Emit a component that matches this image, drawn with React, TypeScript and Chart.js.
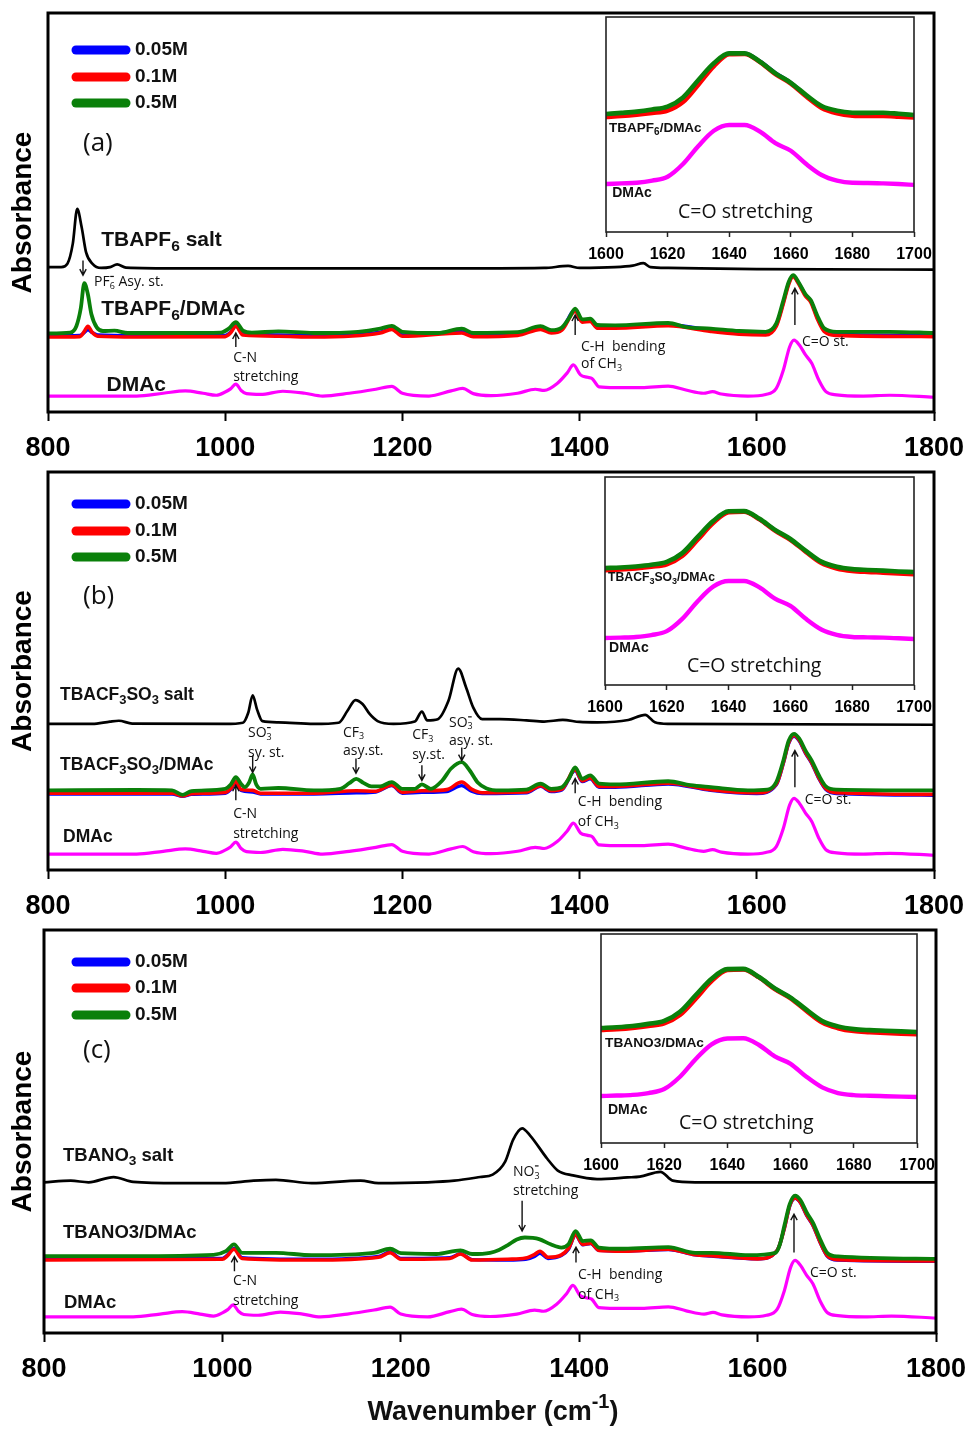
import { useEffect, useRef } from 'react';
import { Chart, registerables } from 'chart.js';

Chart.register(...registerables);

type Pt = [number, number];

// ---------------- axes ----------------
const MAIN_X_TICKS = [800, 1000, 1200, 1400, 1600, 1800];
const INSET_X_TICKS = [1600, 1620, 1640, 1660, 1680, 1700];
const CONCENTRATIONS = ['0.05M', '0.1M', '0.5M'];

// ---------------- pure DMAc spectrum (same solvent in every panel) ----------------
const DMAC: Pt[] = [
  [800, 4.0], [850, 4.0], [900, 4.0], [930, 4.7], [955, 5.3], [975, 4.7], [990, 4.2], [1000, 5.0],
  [1006, 5.8], [1012, 7.0], [1018, 5.4], [1024, 4.6], [1040, 4.4], [1065, 5.2], [1090, 4.7], [1110, 4.0],
  [1140, 4.7], [1170, 5.7], [1188, 6.4], [1200, 4.7], [1230, 4.0], [1255, 5.3], [1268, 5.9], [1280, 4.6],
  [1300, 4.1], [1330, 4.7], [1350, 5.7], [1360, 5.4], [1375, 7.2], [1386, 9.8], [1393, 11.8], [1401, 9.3],
  [1409, 8.7], [1414, 8.4], [1422, 6.3], [1440, 6.1], [1470, 6.1], [1500, 6.5], [1520, 5.5], [1540, 4.7],
  [1550, 5.1], [1560, 4.5], [1590, 4.0], [1610, 4.4], [1622, 5.9], [1630, 10.5], [1637, 16.3], [1642, 18.0],
  [1648, 16.8], [1655, 14.3], [1662, 12.2], [1670, 8.0], [1678, 5.1], [1690, 4.3], [1720, 4.0], [1750, 4.2],
  [1800, 3.7],
];

// ---------------- (a) TBAPF6 ----------------
const PF6_SALT: Pt[] = [
  [800, 36.3], [815, 36.3], [822, 37.2], [828, 42.2], [833, 50.9], [838, 46.3], [843, 40.0], [850, 37.2],
  [860, 36.1], [870, 36.3], [878, 37.0], [888, 36.2], [950, 36.0], [1100, 36.0], [1300, 36.0], [1360, 36.1],
  [1387, 36.6], [1400, 36.1], [1440, 36.3], [1460, 36.7], [1472, 37.3], [1480, 36.3], [1500, 36.1],
  [1600, 35.8], [1800, 35.7],
];
const PF6_005: Pt[] = [
  [800, 19.1], [836, 19.2], [841, 19.9], [845, 20.6], [850, 19.9], [856, 19.3], [900, 19.1], [1000, 19.2],
  [1006, 20.0], [1012, 21.6], [1020, 19.6], [1060, 19.3], [1100, 19.1], [1175, 20.0], [1188, 20.9],
  [1200, 19.3], [1267, 20.1], [1280, 19.2], [1330, 19.5], [1356, 21.0], [1368, 20.1], [1380, 20.8],
  [1395, 25.6], [1403, 22.8], [1412, 23.0], [1420, 21.3], [1440, 21.3], [1500, 21.9], [1548, 20.5],
  [1580, 19.8], [1610, 19.6], [1622, 21.8], [1630, 27.5], [1636, 32.3], [1641, 34.1], [1647, 32.4],
  [1655, 29.3], [1661, 27.8], [1668, 23.8], [1676, 20.5], [1690, 19.5], [1800, 19.2],
];
const PF6_01: Pt[] = [
  [800, 18.8], [836, 18.9], [841, 20.2], [845, 21.5], [850, 19.9], [856, 19.0], [900, 18.8], [1000, 18.9],
  [1006, 19.8], [1012, 21.5], [1020, 19.3], [1060, 19.0], [1100, 18.8], [1175, 19.8], [1188, 20.7],
  [1200, 19.0], [1267, 19.8], [1280, 18.9], [1330, 19.2], [1356, 20.7], [1368, 19.8], [1380, 20.5],
  [1395, 25.2], [1403, 22.5], [1412, 22.7], [1420, 21.0], [1440, 21.0], [1500, 21.6], [1548, 20.2],
  [1580, 19.5], [1610, 19.3], [1622, 21.5], [1630, 27.2], [1636, 32.0], [1641, 33.9], [1647, 32.2],
  [1655, 29.0], [1661, 27.5], [1668, 23.5], [1676, 20.2], [1690, 19.2], [1800, 18.9],
];
const PF6_05: Pt[] = [
  [800, 19.7], [825, 19.9], [832, 21.5], [837, 26.0], [841, 32.3], [845, 29.5], [849, 24.5], [855, 21.2],
  [862, 20.3], [875, 20.4], [890, 19.8], [950, 19.8], [995, 19.9], [1004, 20.9], [1012, 22.5], [1020, 20.4],
  [1030, 19.9], [1060, 20.2], [1100, 19.8], [1150, 20.1], [1175, 20.9], [1188, 21.6], [1200, 20.1],
  [1240, 19.8], [1267, 20.9], [1280, 19.8], [1330, 20.0], [1356, 21.5], [1368, 20.5], [1380, 21.2],
  [1388, 23.5], [1395, 25.9], [1403, 23.2], [1412, 23.4], [1420, 21.8], [1440, 21.7], [1500, 22.3],
  [1520, 21.3], [1548, 20.9], [1580, 20.3], [1610, 20.1], [1622, 22.2], [1630, 28.0], [1636, 32.6],
  [1641, 34.3], [1647, 32.6], [1655, 29.5], [1661, 28.0], [1668, 24.3], [1676, 21.0], [1690, 20.1],
  [1750, 20.1], [1800, 19.8],
];

// ---------------- (b) TBACF3SO3 ----------------
const OTF_SALT: Pt[] = [
  [800, 36.7], [850, 36.7], [870, 37.3], [880, 37.5], [895, 36.8], [1000, 36.7], [1020, 37.0], [1026, 39.5],
  [1031, 43.9], [1036, 40.3], [1042, 37.4], [1060, 37.1], [1100, 36.7], [1128, 37.0], [1138, 40.0],
  [1147, 42.7], [1155, 41.7], [1163, 39.2], [1172, 37.4], [1190, 36.7], [1214, 37.3], [1222, 39.8],
  [1228, 37.6], [1240, 37.9], [1252, 42.5], [1263, 50.6], [1272, 45.8], [1280, 40.8], [1290, 37.9],
  [1310, 37.9], [1340, 37.6], [1360, 37.3], [1381, 37.7], [1400, 37.2], [1420, 37.1], [1455, 37.7],
  [1474, 39.0], [1485, 37.1], [1500, 36.7], [1800, 36.5],
];
const OTF_005: Pt[] = [
  [800, 19.1], [940, 19.1], [952, 18.5], [962, 19.0], [1000, 19.3], [1006, 20.2], [1012, 22.0], [1018, 20.0],
  [1031, 19.6], [1040, 19.1], [1100, 19.1], [1148, 19.4], [1170, 19.6], [1188, 21.2], [1200, 19.3],
  [1222, 19.5], [1250, 19.7], [1267, 21.2], [1278, 19.8], [1290, 19.2], [1340, 19.4], [1356, 21.0],
  [1368, 19.7], [1380, 20.1], [1395, 25.0], [1403, 22.2], [1412, 22.9], [1422, 20.8], [1440, 20.8],
  [1500, 21.6], [1548, 20.0], [1600, 19.2], [1622, 21.4], [1630, 26.8], [1636, 31.8], [1642, 33.6],
  [1648, 32.4], [1655, 29.3], [1662, 26.8], [1670, 23.0], [1678, 20.2], [1690, 19.2], [1800, 18.8],
];
const OTF_01: Pt[] = [
  [800, 19.3], [940, 19.3], [952, 18.6], [962, 19.2], [1000, 19.5], [1006, 20.4], [1012, 22.2], [1018, 20.2],
  [1031, 20.0], [1040, 19.3], [1100, 19.3], [1148, 19.9], [1170, 19.8], [1188, 21.4], [1200, 19.5],
  [1222, 19.9], [1250, 20.2], [1267, 22.1], [1278, 20.3], [1290, 19.4], [1340, 19.6], [1356, 21.2],
  [1368, 19.9], [1380, 20.3], [1395, 25.2], [1403, 22.4], [1412, 23.1], [1422, 21.0], [1440, 21.0],
  [1500, 21.8], [1548, 20.2], [1600, 19.4], [1622, 21.6], [1630, 27.0], [1636, 32.0], [1642, 33.8],
  [1648, 32.6], [1655, 29.5], [1662, 27.0], [1670, 23.2], [1678, 20.4], [1690, 19.4], [1800, 19.0],
];
const OTF_05: Pt[] = [
  [800, 20.0], [900, 20.1], [940, 20.0], [952, 18.9], [962, 19.8], [1000, 20.4], [1006, 21.4], [1012, 23.3],
  [1018, 21.6], [1022, 20.8], [1027, 22.0], [1031, 24.0], [1035, 21.5], [1040, 20.4], [1060, 20.6],
  [1100, 20.0], [1130, 20.4], [1140, 21.8], [1148, 22.9], [1156, 21.9], [1165, 21.0], [1175, 21.0],
  [1188, 22.1], [1200, 20.4], [1214, 20.4], [1222, 21.5], [1232, 20.4], [1245, 22.5], [1255, 25.5],
  [1267, 27.1], [1276, 25.0], [1285, 22.0], [1295, 20.5], [1310, 20.0], [1340, 20.2], [1356, 21.7],
  [1368, 20.4], [1380, 20.8], [1388, 23.0], [1395, 25.8], [1403, 22.9], [1412, 23.8], [1422, 21.7],
  [1440, 21.5], [1500, 22.3], [1525, 21.3], [1548, 20.8], [1590, 20.0], [1612, 20.2], [1622, 22.1],
  [1630, 27.5], [1636, 32.5], [1642, 34.2], [1648, 33.0], [1655, 30.0], [1662, 27.5], [1670, 23.8],
  [1678, 21.0], [1690, 20.2], [1800, 20.0],
];

// ---------------- (c) TBANO3 ----------------
const NO3_SALT: Pt[] = [
  [800, 37.4], [830, 37.8], [850, 37.4], [878, 38.7], [900, 37.5], [950, 37.2], [1000, 37.2], [1035, 37.8],
  [1060, 38.0], [1100, 37.2], [1155, 37.8], [1175, 37.2], [1230, 37.4], [1260, 37.8], [1289, 38.7],
  [1303, 39.3], [1317, 42.5], [1326, 48.0], [1336, 50.8], [1345, 49.0], [1364, 43.3], [1376, 40.3],
  [1393, 39.1], [1420, 38.2], [1454, 38.6], [1468, 38.8], [1491, 40.0], [1505, 37.8], [1530, 37.4],
  [1800, 37.4],
];
const NO3_005: Pt[] = [
  [800, 18.3], [1000, 18.5], [1005, 19.2], [1013, 21.0], [1022, 18.7], [1100, 18.3], [1175, 19.0],
  [1188, 20.1], [1200, 18.5], [1255, 18.7], [1267, 19.7], [1280, 18.2], [1320, 18.1], [1340, 18.3],
  [1350, 19.0], [1356, 19.8], [1365, 18.5], [1380, 19.2], [1388, 20.8], [1396, 24.3], [1404, 21.9],
  [1413, 22.2], [1422, 20.5], [1450, 20.3], [1500, 20.7], [1530, 19.4], [1548, 19.1], [1600, 18.4],
  [1622, 20.5], [1630, 26.0], [1636, 31.5], [1642, 33.4], [1648, 32.3], [1655, 29.2], [1662, 26.7],
  [1670, 22.5], [1678, 19.1], [1690, 18.1], [1800, 17.8],
];
const NO3_01: Pt[] = [
  [800, 18.1], [1000, 18.3], [1005, 19.0], [1013, 20.8], [1022, 18.5], [1100, 18.1], [1175, 18.8],
  [1188, 19.9], [1200, 18.3], [1255, 18.5], [1267, 19.6], [1280, 18.1], [1320, 18.3], [1340, 18.6],
  [1350, 19.5], [1356, 20.3], [1365, 18.8], [1380, 19.4], [1388, 21.0], [1396, 24.4], [1404, 22.0],
  [1413, 22.3], [1422, 20.5], [1450, 20.3], [1500, 20.8], [1530, 19.4], [1548, 19.2], [1600, 18.4],
  [1622, 20.5], [1630, 26.0], [1636, 31.6], [1642, 33.5], [1648, 32.4], [1655, 29.3], [1662, 26.8],
  [1670, 22.6], [1678, 19.2], [1690, 18.2], [1800, 17.9],
];
const NO3_05: Pt[] = [
  [800, 19.1], [900, 19.1], [990, 19.4], [1004, 20.3], [1013, 22.0], [1022, 19.9], [1060, 19.9], [1100, 19.3],
  [1170, 19.9], [1188, 20.9], [1200, 19.8], [1240, 19.6], [1267, 20.5], [1280, 19.6], [1300, 19.9],
  [1310, 20.6], [1320, 21.8], [1330, 23.2], [1339, 23.7], [1348, 23.6], [1355, 23.3], [1368, 22.0],
  [1380, 21.2], [1388, 22.0], [1396, 25.3], [1404, 22.8], [1413, 23.0], [1422, 21.2], [1450, 20.9],
  [1500, 21.3], [1530, 19.9], [1548, 19.9], [1590, 19.3], [1620, 19.9], [1625, 22.0], [1630, 26.6],
  [1636, 32.0], [1642, 34.1], [1648, 33.0], [1655, 29.9], [1662, 27.4], [1670, 23.3], [1678, 19.9],
  [1690, 19.0], [1800, 18.4],
];

// ---------------- C=O stretching close-ups (1600-1700 cm-1) ----------------
const INSET_WN = [
  1600, 1605, 1610, 1615, 1620, 1625, 1630, 1635, 1640, 1645, 1650,
  1655, 1660, 1665, 1670, 1675, 1680, 1685, 1690, 1695, 1700,
];
const INSET_A_005 = [54.2, 54.6, 55.2, 56.1, 57.3, 61.5, 69.8, 78.0, 83.0, 83.0, 79.3, 73.9, 69.4, 63.4, 58.1, 55.7, 54.7, 54.5, 54.6, 54.2, 53.8];
const INSET_A_01 = [53.5, 53.9, 54.5, 55.3, 56.4, 60.4, 68.5, 77.0, 82.6, 82.8, 79.0, 73.4, 69.0, 63.0, 57.7, 55.2, 54.1, 53.9, 53.9, 53.6, 53.2];
const INSET_A_05 = [54.9, 55.4, 56.0, 57.0, 58.3, 62.6, 70.7, 78.5, 83.1, 83.1, 79.2, 73.8, 69.4, 63.7, 58.6, 56.4, 55.5, 55.4, 55.5, 55.0, 54.4];
const INSET_A_DMAC = [22.3, 22.6, 22.9, 23.9, 25.7, 31.6, 40.0, 47.1, 49.8, 49.8, 46.7, 41.3, 37.8, 31.6, 26.5, 23.9, 22.9, 22.8, 22.6, 22.3, 21.9];

const INSET_B_005 = [55.7, 56.0, 56.6, 57.5, 59.0, 63.3, 71.0, 78.6, 83.3, 83.4, 79.7, 74.4, 70.0, 64.2, 58.9, 56.3, 55.2, 54.8, 54.5, 54.1, 53.7];
const INSET_B_01 = [55.2, 55.5, 56.0, 56.8, 58.0, 62.0, 69.8, 77.8, 83.0, 83.3, 79.6, 74.2, 69.8, 64.0, 58.6, 56.0, 54.8, 54.3, 54.0, 53.6, 53.2];
const INSET_B_05 = [56.2, 56.5, 57.0, 57.8, 59.2, 63.4, 71.2, 78.8, 83.5, 83.6, 79.9, 74.6, 70.2, 64.5, 59.3, 56.8, 55.7, 55.3, 55.0, 54.6, 54.3];
const INSET_B_DMAC = [22.6, 22.8, 23.1, 24.0, 25.9, 31.8, 40.3, 47.3, 50.0, 50.0, 46.9, 41.5, 38.0, 31.8, 26.7, 24.1, 23.1, 22.9, 22.8, 22.5, 22.1];

const INSET_C_005 = [54.4, 54.8, 55.4, 56.3, 57.7, 61.8, 69.8, 78.0, 83.0, 83.1, 79.3, 73.8, 69.4, 63.5, 58.0, 55.3, 54.0, 53.5, 53.1, 52.8, 52.5];
const INSET_C_01 = [54.0, 54.4, 55.0, 55.9, 57.2, 61.2, 69.0, 77.4, 82.7, 83.0, 79.2, 73.6, 69.2, 63.2, 57.6, 54.9, 53.5, 53.0, 52.6, 52.3, 52.0];
const INSET_C_05 = [55.0, 55.4, 56.0, 57.0, 58.4, 62.8, 70.8, 78.6, 83.2, 83.3, 79.4, 74.0, 69.6, 63.8, 58.4, 55.8, 54.5, 54.0, 53.7, 53.4, 53.1];
const INSET_C_DMAC = [22.5, 22.7, 23.0, 23.9, 25.8, 31.7, 40.2, 47.2, 50.0, 50.1, 46.9, 41.4, 37.9, 31.7, 26.6, 23.9, 22.9, 22.6, 22.4, 22.2, 22.0];

// ---------------- styling ----------------
const W = 968;
const H = 1430;
const ARIAL = '"Liberation Sans", Arial, sans-serif';
const OPEN = '"Open Sans", sans-serif';
const COLORS = { c005: '#0000ff', c01: '#ff0000', c05: '#0a800a', salt: '#000000', dmac: '#ff00ff' };

type Note = { text: string; wn: number; v: number; size: number; bold?: boolean; family?: string };
type Arrow = { wn: number; from: number; to: number };
type Box = { left: number; top: number; right: number; bottom: number };

interface InsetCfg {
  box: Box;
  c005: number[];
  c01: number[];
  c05: number[];
  dmac: number[];
  notes: Note[];
}

interface PanelCfg {
  id: string;
  area: Box;
  canvasTop: number;
  canvasHeight: number;
  axisHeight: number;
  salt: Pt[];
  c005: Pt[];
  c01: Pt[];
  c05: Pt[];
  notes: Note[];
  arrows: Arrow[];
  legendRows: number[];
  xTitle?: string;
  inset: InsetCfg;
}

const lab = (text: string, wn: number, v: number, size: number): Note => ({ text, wn, v, size, bold: true, family: ARIAL });
const ann = (text: string, wn: number, v: number): Note => ({ text, wn, v, size: 14, family: OPEN });
const tag = (text: string, wn: number, v: number): Note => ({ text, wn, v, size: 26, family: OPEN });

const PANELS: PanelCfg[] = [
  {
    id: 'a',
    area: { left: 48, top: 13, right: 934, bottom: 412 },
    canvasTop: 0,
    canvasHeight: 13 + 399 + 50,
    axisHeight: 50,
    salt: PF6_SALT, c005: PF6_005, c01: PF6_01, c05: PF6_05,
    notes: [
      lab('TBAPF_6 salt', 860, 43, 21),
      lab('TBAPF_6/DMAc', 860, 25.8, 21),
      lab('DMAc', 866, 6.8, 21),
      tag('(a)', 839.5, 67.3),
      ann('PF_6^- Asy. st.', 852, 32.5),
      ann('C-N', 1009, 13.5),
      ann('stretching', 1009, 8.8),
      ann('C-H  bending', 1401.6, 16.3),
      ann('of CH_3', 1401.6, 12),
      ann('C=O st.', 1651, 17.5),
    ],
    arrows: [
      { wn: 839.5, from: 38, to: 34.3 },
      { wn: 1012, from: 16.3, to: 19.8 },
      { wn: 1395, from: 19.3, to: 24.3 },
      { wn: 1643, from: 21.8, to: 31 },
    ],
    legendRows: [50, 77, 103],
    inset: {
      box: { left: 606, top: 17, right: 914, bottom: 232 },
      c005: INSET_A_005, c01: INSET_A_01, c05: INSET_A_05, dmac: INSET_A_DMAC,
      notes: [
        lab('TBAPF_6/DMAc', 1601, 48.2, 13.5),
        lab('DMAc', 1602, 18.1, 14),
        { text: 'C=O stretching', wn: 1623.4, v: 9.3, size: 19.5, family: OPEN },
      ],
    },
  },
  {
    id: 'b',
    area: { left: 48, top: 472, right: 934, bottom: 870 },
    canvasTop: 459,
    canvasHeight: 13 + 398 + 50,
    axisHeight: 50,
    salt: OTF_SALT, c005: OTF_005, c01: OTF_01, c05: OTF_05,
    notes: [
      lab('TBACF_3SO_3 salt', 813.5, 44, 17.5),
      lab('TBACF_3SO_3/DMAc', 813.5, 26.3, 17.5),
      lab('DMAc', 817, 8.3, 17.5),
      tag('(b)', 839.5, 68.8),
      ann('SO_3^-', 1025.7, 34.3),
      ann('sy. st.', 1025.7, 29.3),
      ann('CF_3', 1133, 34.5),
      ann('asy.st.', 1133, 30),
      ann('CF_3', 1211, 33.8),
      ann('sy.st.', 1211, 28.8),
      ann('SO_3^-', 1252.6, 37),
      ann('asy. st.', 1252.6, 32.5),
      ann('C-N', 1009, 14),
      ann('stretching', 1009, 9),
      ann('C-H  bending', 1398, 17),
      ann('of CH_3', 1398, 12),
      ann('C=O st.', 1654, 17.5),
    ],
    arrows: [
      { wn: 1031, from: 28.8, to: 24.5 },
      { wn: 1147.6, from: 28, to: 24.3 },
      { wn: 1222, from: 26.3, to: 22.5 },
      { wn: 1267, from: 30.8, to: 27.5 },
      { wn: 1012, from: 17.5, to: 21.3 },
      { wn: 1395, from: 19.3, to: 23 },
      { wn: 1643, from: 20.8, to: 30 },
    ],
    legendRows: [504, 531, 557],
    inset: {
      box: { left: 605, top: 477, right: 914, bottom: 685 },
      c005: INSET_B_005, c01: INSET_B_01, c05: INSET_B_05, dmac: INSET_B_DMAC,
      notes: [
        lab('TBACF_3SO_3/DMAc', 1601, 51.4, 12.2),
        lab('DMAc', 1601.3, 17.8, 14),
        { text: 'C=O stretching', wn: 1626.5, v: 9.1, size: 19.5, family: OPEN },
      ],
    },
  },
  {
    id: 'c',
    area: { left: 44, top: 930, right: 936, bottom: 1333 },
    canvasTop: 917,
    canvasHeight: H - 917,
    axisHeight: H - 1333,
    salt: NO3_SALT, c005: NO3_005, c01: NO3_01, c05: NO3_05,
    notes: [
      lab('TBANO_3 salt', 821.3, 44, 18.5),
      lab('TBANO3/DMAc', 821.3, 24.9, 18.5),
      lab('DMAc', 822.4, 7.5, 18.5),
      tag('(c)', 843.7, 70),
      ann('NO_3^-', 1325.8, 40),
      ann('stretching', 1325.8, 35.3),
      ann('C-N', 1012, 12.8),
      ann('stretching', 1012, 8),
      ann('C-H  bending', 1398.7, 14.3),
      ann('of CH_3', 1398.7, 9.5),
      ann('C=O st.', 1658.7, 15),
    ],
    arrows: [
      { wn: 1336, from: 32.8, to: 25.3 },
      { wn: 1013.5, from: 15.3, to: 19 },
      { wn: 1396.4, from: 17.5, to: 21.3 },
      { wn: 1640.8, from: 20, to: 29.5 },
    ],
    legendRows: [962, 988, 1015],
    xTitle: 'Wavenumber (cm^-^1)',
    inset: {
      box: { left: 601, top: 934, right: 917, bottom: 1143 },
      c005: INSET_C_005, c01: INSET_C_01, c05: INSET_C_05, dmac: INSET_C_DMAC,
      notes: [
        lab('TBANO3/DMAc', 1601.3, 47.7, 13.7),
        lab('DMAc', 1602.2, 15.5, 14),
        { text: 'C=O stretching', wn: 1624.7, v: 9.4, size: 19.5, family: OPEN },
      ],
    },
  },
];

// ---------------- text with sub/superscripts ('_x' sub, '^x' sup) ----------------
type Run = { t: string; kind: 'n' | 'sub' | 'sup' };
function parseRich(s: string): Run[] {
  const out: Run[] = [];
  for (let i = 0; i < s.length; i++) {
    const c = s[i];
    if ((c === '_' || c === '^') && i + 1 < s.length) {
      out.push({ t: s[i + 1], kind: c === '_' ? 'sub' : 'sup' });
      i++;
    } else {
      const last = out[out.length - 1];
      if (last && last.kind === 'n') last.t += c;
      else out.push({ t: c, kind: 'n' });
    }
  }
  return out;
}

function layoutRich(ctx: CanvasRenderingContext2D, s: string, size: number, weight: string, family: string) {
  const items: { t: string; x: number; dy: number; font: string; bar?: number }[] = [];
  let x = 0;
  let prevSub: { x: number } | null = null;
  const isOpen = family === OPEN;
  const subScale = isOpen ? 0.64 : 0.74;
  const supScale = isOpen ? 0.8 : 0.74;
  for (const r of parseRich(s)) {
    const fs = r.kind === 'n' ? size : r.kind === 'sub' ? size * subScale : size * supScale;
    const font = `${weight} ${fs}px ${family}`;
    ctx.font = font;
    const w = ctx.measureText(r.t).width;
    if (r.kind === 'n') {
      items.push({ t: r.t, x, dy: 0, font });
      x += w;
      prevSub = null;
    } else if (r.kind === 'sub') {
      items.push({ t: r.t, x, dy: size * 0.3, font });
      prevSub = { x };
      x += w;
    } else {
      const sx = prevSub ? prevSub.x + 0.5 : x;
      if (isOpen && r.t === '-') {
        // small raised dash, drawn as a short bar so it stays legible at small sizes
        const bw = Math.max(3.2, size * 0.26);
        items.push({ t: '', x: sx, dy: -size * 0.42, font, bar: bw });
        x = Math.max(x, sx + bw + 0.5);
      } else {
        items.push({ t: r.t, x: sx, dy: -size * 0.38, font });
        x = Math.max(x, sx + w);
      }
      prevSub = null;
    }
  }
  return { items, width: x };
}

function drawRich(
  ctx: CanvasRenderingContext2D, s: string, x: number, y: number,
  size: number, weight: string, family: string, align: 'left' | 'center' = 'left',
) {
  const { items, width } = layoutRich(ctx, s, size, weight, family);
  const x0 = align === 'center' ? x - width / 2 : x;
  ctx.textAlign = 'left';
  ctx.textBaseline = 'middle';
  ctx.fillStyle = '#111';
  for (const it of items) {
    if (it.bar) {
      ctx.fillRect(x0 + it.x, y + it.dy - 0.6, it.bar, 1.2);
      continue;
    }
    ctx.font = it.font;
    ctx.fillText(it.t, x0 + it.x, y + it.dy);
  }
}

function drawArrow(ctx: CanvasRenderingContext2D, x: number, y0: number, y1: number) {
  const dir = y1 > y0 ? 1 : -1;
  ctx.strokeStyle = '#111';
  ctx.lineWidth = 1.4;
  ctx.lineCap = 'butt';
  ctx.beginPath();
  ctx.moveTo(x, y0);
  ctx.lineTo(x, y1);
  ctx.moveTo(x - 3.2, y1 - dir * 6);
  ctx.lineTo(x, y1);
  ctx.lineTo(x + 3.2, y1 - dir * 6);
  ctx.stroke();
}

const toXY = (pts: Pt[]) => pts.map(([x, y]) => ({ x, y }));
const zipXY = (xs: number[], ys: number[]) => xs.map((x, i) => ({ x, y: ys[i] }));

const line = (label: string, data: { x: number; y: number }[], color: string, width: number) => ({
  label,
  data,
  borderColor: color,
  backgroundColor: color,
  borderWidth: width,
  pointRadius: 0,
  fill: false,
  cubicInterpolationMode: 'monotone' as const,
  borderJoinStyle: 'round' as const,
  borderCapStyle: 'round' as const,
});

function MainPanel({ p }: { p: PanelCfg }) {
  const ref = useRef<HTMLCanvasElement>(null);
  useEffect(() => {
    const a = p.area;
    const decor = {
      id: 'decor-' + p.id,
      afterDraw(chart: any) {
        const { ctx, chartArea: ca, scales } = chart;
        const xs = scales.x;
        const ys = scales.y;
        ctx.save();
        ctx.strokeStyle = '#000';
        ctx.lineWidth = 3;
        ctx.strokeRect(ca.left, ca.top, ca.right - ca.left, ca.bottom - ca.top);

        // legend: concentrations, thick rounded swatches
        const conc = [chart.data.datasets[2], chart.data.datasets[1], chart.data.datasets[0]];
        p.legendRows.forEach((py: number, i: number) => {
          const y = py - p.canvasTop;
          ctx.strokeStyle = conc[i].borderColor;
          ctx.lineWidth = 9;
          ctx.lineCap = 'round';
          ctx.beginPath();
          ctx.moveTo(76, y);
          ctx.lineTo(126, y);
          ctx.stroke();
          drawRich(ctx, conc[i].label, 135, y, 19, 'bold', ARIAL);
        });

        for (const n of p.notes) {
          drawRich(ctx, n.text, xs.getPixelForValue(n.wn), ys.getPixelForValue(n.v), n.size,
            n.bold ? 'bold' : 'normal', n.family || OPEN);
        }
        for (const ar of p.arrows) {
          drawArrow(ctx, xs.getPixelForValue(ar.wn), ys.getPixelForValue(ar.from), ys.getPixelForValue(ar.to));
        }
        if (p.xTitle) {
          drawRich(ctx, p.xTitle, (ca.left + ca.right) / 2 + 3, 1413 - p.canvasTop, 27, 'bold', ARIAL, 'center');
        }
        ctx.restore();
      },
    };

    const chart = new Chart(ref.current!, {
      type: 'line',
      data: {
        datasets: [
          line(CONCENTRATIONS[2], toXY(p.c05), COLORS.c05, 3.8),
          line(CONCENTRATIONS[1], toXY(p.c01), COLORS.c01, 3.6),
          line(CONCENTRATIONS[0], toXY(p.c005), COLORS.c005, 3.4),
          line('salt', toXY(p.salt), COLORS.salt, 2.7),
          line('DMAc', toXY(DMAC), COLORS.dmac, 3.2),
        ] as any,
      },
      options: {
        responsive: false,
        animation: false,
        devicePixelRatio: 1,
        events: [],
        layout: { padding: { left: 0, top: a.top - p.canvasTop, right: W - a.right, bottom: 0 } },
        plugins: { legend: { display: false }, tooltip: { enabled: false } },
        scales: {
          x: {
            type: 'linear',
            min: MAIN_X_TICKS[0],
            max: MAIN_X_TICKS[MAIN_X_TICKS.length - 1],
            afterFit: (s: any) => { s.height = p.axisHeight; s.paddingLeft = 0; s.paddingRight = 0; },
            ticks: {
              stepSize: MAIN_X_TICKS[1] - MAIN_X_TICKS[0],
              callback: (v: any) => String(v),
              color: '#000',
              padding: 11,
              maxRotation: 0,
              font: { family: ARIAL, size: 27, weight: 'bold' },
            },
            grid: { display: true, drawOnChartArea: false, drawTicks: true, tickLength: 9, tickWidth: 2, tickColor: '#000' },
            border: { display: false },
          },
          y: {
            type: 'linear',
            min: 0,
            max: 100,
            afterFit: (s: any) => { s.width = a.left; s.paddingTop = 0; s.paddingBottom = 0; },
            ticks: { display: false },
            grid: { display: false },
            border: { display: false },
            title: {
              display: true,
              text: 'Absorbance',
              color: '#000',
              padding: { top: 6, bottom: 0 },
              font: { family: ARIAL, size: 28, weight: 'bold' },
            },
          },
        },
      } as any,
      plugins: [decor],
    });
    return () => chart.destroy();
  }, [p]);
  return (
    <canvas
      ref={ref}
      width={W}
      height={p.canvasHeight}
      style={{ position: 'absolute', left: 0, top: p.canvasTop, width: W, height: p.canvasHeight }}
    />
  );
}

function InsetPanel({ p }: { p: PanelCfg }) {
  const ref = useRef<HTMLCanvasElement>(null);
  const b = p.inset.box;
  const left = b.left - 30;
  const top = b.top - 10;
  const width = W - left;
  const height = b.bottom - b.top + 10 + 40;
  useEffect(() => {
    const ins = p.inset;
    const decor = {
      id: 'inset-' + p.id,
      afterDraw(chart: any) {
        const { ctx, chartArea: ca, scales } = chart;
        ctx.save();
        ctx.strokeStyle = '#222';
        ctx.lineWidth = 1.6;
        ctx.strokeRect(ca.left, ca.top, ca.right - ca.left, ca.bottom - ca.top);
        for (const n of ins.notes) {
          drawRich(ctx, n.text, scales.x.getPixelForValue(n.wn), scales.y.getPixelForValue(n.v), n.size,
            n.bold ? 'bold' : 'normal', n.family || OPEN);
        }
        ctx.restore();
      },
    };
    const chart = new Chart(ref.current!, {
      type: 'line',
      data: {
        datasets: [
          line(CONCENTRATIONS[2], zipXY(INSET_WN, ins.c05), COLORS.c05, 4.6),
          line(CONCENTRATIONS[1], zipXY(INSET_WN, ins.c01), COLORS.c01, 4.4),
          line(CONCENTRATIONS[0], zipXY(INSET_WN, ins.c005), COLORS.c005, 4),
          line('DMAc', zipXY(INSET_WN, ins.dmac), COLORS.dmac, 4.4),
        ] as any,
      },
      options: {
        responsive: false,
        animation: false,
        devicePixelRatio: 1,
        events: [],
        layout: { padding: { left: 30, top: 10, right: W - b.right, bottom: 0 } },
        plugins: { legend: { display: false }, tooltip: { enabled: false } },
        scales: {
          x: {
            type: 'linear',
            min: INSET_X_TICKS[0],
            max: INSET_X_TICKS[INSET_X_TICKS.length - 1],
            afterFit: (s: any) => { s.height = 40; s.paddingLeft = 0; s.paddingRight = 0; },
            ticks: {
              stepSize: INSET_X_TICKS[1] - INSET_X_TICKS[0],
              callback: (v: any) => String(v),
              color: '#000',
              padding: 8,
              maxRotation: 0,
              font: { family: ARIAL, size: 16, weight: 'bold' },
            },
            grid: { display: true, drawOnChartArea: false, drawTicks: true, tickLength: 5, tickWidth: 1.5, tickColor: '#222' },
            border: { display: false },
          },
          y: { type: 'linear', display: false, min: 0, max: 100 },
        },
      } as any,
      plugins: [decor],
    });
    return () => chart.destroy();
  }, [p]);
  return (
    <canvas
      ref={ref}
      width={width}
      height={height}
      style={{ position: 'absolute', left, top, width, height }}
    />
  );
}

export default function App() {
  return (
    <div style={{ position: 'absolute', left: 0, top: 0, width: W, height: H, background: '#fff', overflow: 'hidden' }}>
      {PANELS.map((p) => (
        <MainPanel key={'m' + p.id} p={p} />
      ))}
      {PANELS.map((p) => (
        <InsetPanel key={'i' + p.id} p={p} />
      ))}
    </div>
  );
}
